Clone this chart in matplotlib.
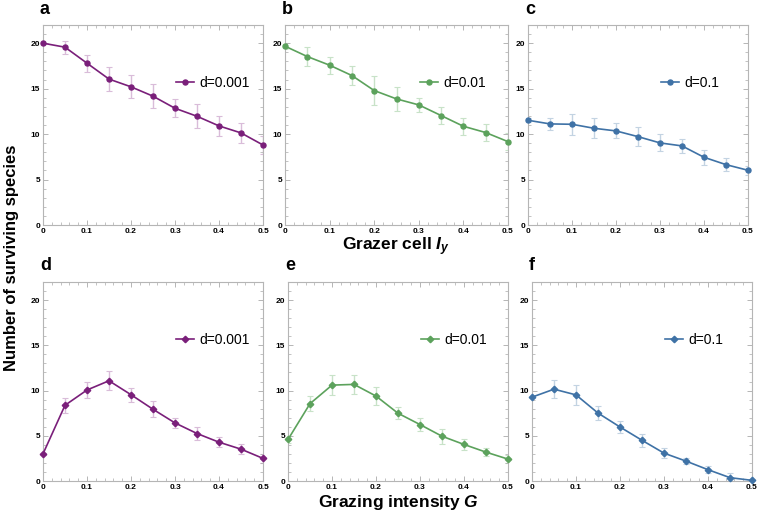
import numpy as np
import matplotlib
matplotlib.use("Agg")
import matplotlib.pyplot as plt
from matplotlib.ticker import MultipleLocator

plt.rcParams['font.family'] = ['Liberation Sans', 'DejaVu Sans']
plt.rcParams['mathtext.fontset'] = 'custom'
plt.rcParams['mathtext.it'] = 'Liberation Sans:italic'
plt.rcParams['mathtext.bf'] = 'Liberation Sans:bold'
plt.rcParams['mathtext.bfit'] = 'Liberation Sans:bold:italic'

# --- data ---
x_vals = [0, 0.05, 0.1, 0.15, 0.2, 0.25, 0.3, 0.35, 0.4, 0.45, 0.5]

# top row: grazer cell I_y
a_mean = [20.0, 19.56, 17.8, 16.05, 15.2, 14.17, 12.84, 11.96, 10.9, 10.13, 8.8]
a_err = [0.05, 0.73, 0.93, 1.3, 1.27, 1.3, 0.97, 1.3, 1.14, 1.1, 1.0]
b_mean = [19.67, 18.53, 17.58, 16.44, 14.79, 13.87, 13.21, 12.04, 10.86, 10.17, 9.17]
b_err = [0.3, 1.0, 0.95, 1.08, 1.6, 1.3, 0.73, 0.93, 0.92, 0.97, 0.9]
c_mean = [11.52, 11.12, 11.08, 10.64, 10.35, 9.72, 9.03, 8.7, 7.45, 6.64, 6.02]
c_err = [0.2, 0.66, 1.14, 1.1, 0.83, 1.06, 0.94, 0.77, 0.83, 0.7, 0.5]

# bottom row: grazing intensity G
d_mean = [3.0, 8.37, 10.06, 11.08, 9.54, 7.93, 6.42, 5.25, 4.29, 3.52, 2.5]
d_err = [0.1, 0.86, 0.88, 1.05, 0.79, 0.88, 0.57, 0.68, 0.57, 0.55, 0.5]
e_mean = [4.59, 8.55, 10.6, 10.68, 9.39, 7.49, 6.24, 4.95, 4.04, 3.19, 2.42]
e_err = [0.35, 0.86, 1.12, 1.05, 1.03, 0.64, 0.75, 0.81, 0.57, 0.44, 0.4]
f_mean = [9.27, 10.15, 9.52, 7.51, 5.97, 4.5, 3.08, 2.2, 1.25, 0.37, 0.07]
f_err = [0.1, 0.97, 1.1, 0.77, 0.71, 0.7, 0.53, 0.37, 0.42, 0.55, 0.1]

labels = ["d=0.001", "d=0.01", "d=0.1"]
panel_letters = ["a", "b", "c", "d", "e", "f"]
line_colors = ["#7A1F7A", "#5CA25C", "#3F72A6"]
err_colors = ["#D9BCD9", "#C8E2C8", "#C3D3E2"]

W, H = 758, 519
fig = plt.figure(figsize=(W / 100, H / 100), dpi=100)

# axes boxes in pixels (left, right, top, bottom)
boxes = [
    (43, 263, 25, 225), (285, 508, 25, 225), (528, 748, 25, 225),
    (43, 263, 282, 481), (288, 508, 282, 481), (532, 752, 282, 481),
]
means = [a_mean, b_mean, c_mean, d_mean, e_mean, f_mean]
errs = [a_err, b_err, c_err, d_err, e_err, f_err]

for i, (l, r, t, b) in enumerate(boxes):
    ax = fig.add_axes([l / W, 1 - b / H, (r - l) / W, (b - t) / H])
    k = i % 3
    marker = "o" if i < 3 else "D"
    ax.errorbar(x_vals, means[i], yerr=errs[i], fmt="none", ecolor=err_colors[k],
                elinewidth=1.0, capsize=2.5, capthick=0.8, zorder=1)
    ax.plot(x_vals, means[i], color=line_colors[k], lw=1.2, marker=marker,
            ms=3.6 if marker == "o" else 3.3, label=labels[k], zorder=3, clip_on=False)
    ax.set_xlim(0, 0.5)
    ax.set_ylim(0, 22)
    ax.set_xticks([0, 0.1, 0.2, 0.3, 0.4, 0.5])
    ax.set_xticklabels(["0", "0.1", "0.2", "0.3", "0.4", "0.5"])
    ax.set_yticks([0, 5, 10, 15, 20])
    ax.xaxis.set_minor_locator(MultipleLocator(0.02))
    ax.yaxis.set_minor_locator(MultipleLocator(1))
    ax.tick_params(which="both", direction="in", top=True, right=True,
                   color="#AAAAAA", labelsize=6, pad=2)
    ax.tick_params(which="major", length=3.5, width=0.6)
    ax.tick_params(which="minor", length=2, width=0.5)
    for lab in ax.get_xticklabels() + ax.get_yticklabels():
        lab.set_fontweight("bold")
    for sp in ax.spines.values():
        sp.set_color("#B5B5B5")
        sp.set_linewidth(0.8)
    ax.legend(loc="center left", bbox_to_anchor=(0.56, 0.71), frameon=False,
              fontsize=10, handlelength=1.3, handletextpad=0.4, borderpad=0.2)
    fig.text((l - 3) / W, 1 - (t - 16) / H, panel_letters[i], fontsize=13,
             fontweight="bold", ha="left", va="center")

fig.text(396 / W, 1 - 247 / H, r"Grazer cell $\mathbfit{I_y}$", fontsize=12.5,
         fontweight="bold", ha="center", va="center")
fig.text(398 / W, 1 - 503 / H, r"Grazing intensity $\mathbfit{G}$", fontsize=12.5,
         fontweight="bold", ha="center", va="center")
fig.text(12 / W, 1 - 258 / H, "Number of surviving species", fontsize=12,
         fontweight="bold", rotation=90, ha="center", va="center")

fig.savefig("out.png", dpi=100)
